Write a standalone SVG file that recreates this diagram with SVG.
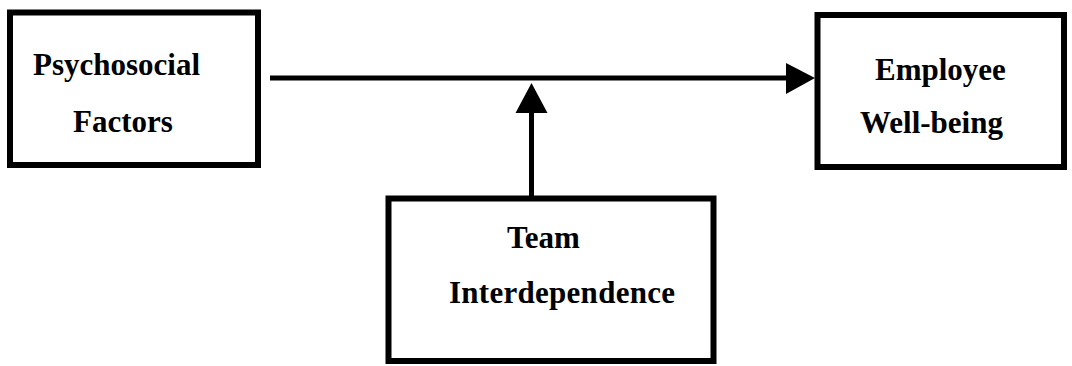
<svg xmlns="http://www.w3.org/2000/svg" width="1072" height="366" viewBox="0 0 1072 366">
  <style>
    .box { fill: #ffffff; stroke: #000000; stroke-width: 6; }
    .label { font-family: "Liberation Serif", "Times New Roman", serif; font-weight: bold; font-size: 31px; fill: #000000; }
    .edge { stroke: #000000; stroke-width: 5; fill: none; }
    .head { fill: #000000; }
  </style>
  <rect width="1072" height="366" fill="#ffffff"/>

  <g id="psychosocial-factors">
    <rect class="box" x="10" y="12.5" width="248" height="152.5"/>
    <text class="label" x="33" y="75">Psychosocial</text>
    <text class="label" x="73" y="132">Factors</text>
  </g>

  <g id="employee-well-being">
    <rect class="box" x="817.5" y="15" width="246.5" height="152"/>
    <text class="label" x="875" y="80">Employee</text>
    <text class="label" x="860" y="133">Well-being</text>
  </g>

  <g id="team-interdependence">
    <rect class="box" x="388.5" y="198.5" width="325" height="162.5"/>
    <text class="label" x="507" y="248">Team</text>
    <text class="label" x="449" y="303" textLength="226">Interdependence</text>
  </g>

  <g id="connectors">
    <!-- main path: psychosocial factors to well-being -->
    <line class="edge" x1="270" y1="78" x2="790" y2="78"/>
    <polygon class="head" points="815,78 786,63 786,94"/>
    <!-- moderator: team interdependence onto the main path -->
    <line class="edge" x1="531.5" y1="196" x2="531.5" y2="110"/>
    <polygon class="head" points="531.5,83 515.5,113 547.5,113"/>
  </g>
</svg>
